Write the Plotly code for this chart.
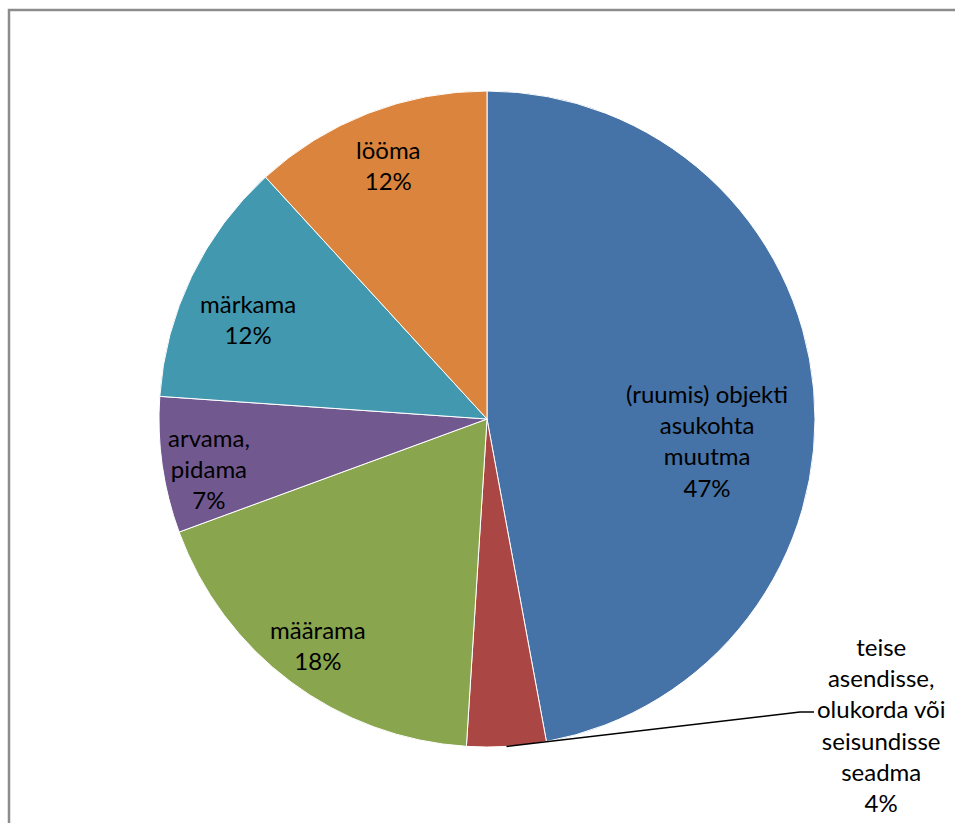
import math
import plotly.graph_objects as go

labels = [
    "(ruumis) objekti<br>asukohta<br>muutma",
    "teise<br>asendisse,<br>olukorda või<br>seisundisse<br>seadma",
    "määrama",
    "arvama,<br>pidama",
    "märkama",
    "lööma",
]
values = [47.1, 3.9, 18.4, 6.7, 12.1, 11.8]
colors = ["#4572A7", "#AA4643", "#89A54E", "#71588F", "#4198AF", "#DB843D"]

W, H = 955, 823
FONT = "Lato, 'Open Sans', sans-serif"
CX, CY, R = 487, 419, 328          # pie centre / radius in pixels
# label placement (style): radius fraction and angular nudge (degrees) per slice
label_rfrac = [0.675, None, 0.86, 0.86, 0.79, 0.83]
label_nudge = [10.7, 0, 0, -2, -3, 0]

fig = go.Figure(go.Pie(
    labels=labels,
    values=values,
    sort=False,
    direction="clockwise",
    rotation=0,
    marker=dict(colors=colors, line=dict(color="white", width=1)),
    textinfo="none",
    hoverinfo="label+percent",
    showlegend=False,
    domain=dict(x=[(CX - R) / W, (CX + R) / W], y=[1 - (CY + R) / H, 1 - (CY - R) / H]),
))

total = sum(values)
cum = 0.0
mids = []
for v in values:
    mids.append((cum + v / 2) / total * 360)
    cum += v

for i, (lab, v) in enumerate(zip(labels, values)):
    pct = f"{round(v / total * 100)}%"
    if label_rfrac[i] is None:
        continue
    ang = math.radians(mids[i] + label_nudge[i])
    rr = R * label_rfrac[i]
    px = CX + rr * math.sin(ang)
    py = CY - rr * math.cos(ang)
    fig.add_annotation(
        x=px / W, y=1 - py / H, xref="paper", yref="paper",
        text=lab + "<br>" + pct, showarrow=False,
        xanchor="center", yanchor="middle", align="center",
        font=dict(family=FONT, size=24, color="black"),
    )

# outside label for the small slice with an elbow leader line from its rim
ang = math.radians(mids[1])
hx = CX + R * math.sin(ang)
hy = CY - R * math.cos(ang)
lx, ly = 881, 724           # label centre (px)
ex, ey, tx = 800, 712, 814  # elbow and line end (px)


def P(x, y):
    return f"{x / W:.5f},{1 - y / H:.5f}"


fig.add_shape(type="path", xref="paper", yref="paper",
              path=f"M{P(hx, hy)} L{P(ex, ey)} L{P(tx, ey)}",
              line=dict(color="black", width=1.6))
fig.add_annotation(
    x=lx / W, y=1 - ly / H, xref="paper", yref="paper",
    text=labels[1] + "<br>" + f"{round(values[1] / total * 100)}%",
    showarrow=False, xanchor="center", yanchor="middle", align="center",
    font=dict(family=FONT, size=24, color="black"),
)

fig.add_shape(type="rect", xref="paper", yref="paper",
              x0=9 / W, x1=1.05, y0=-0.05, y1=1 - 10 / H,
              line=dict(color="#8C8C8C", width=2.5))

fig.update_layout(
    width=W, height=H,
    margin=dict(l=0, r=0, t=0, b=0),
    paper_bgcolor="white",
    plot_bgcolor="white",
)

fig.write_html("out.html")
